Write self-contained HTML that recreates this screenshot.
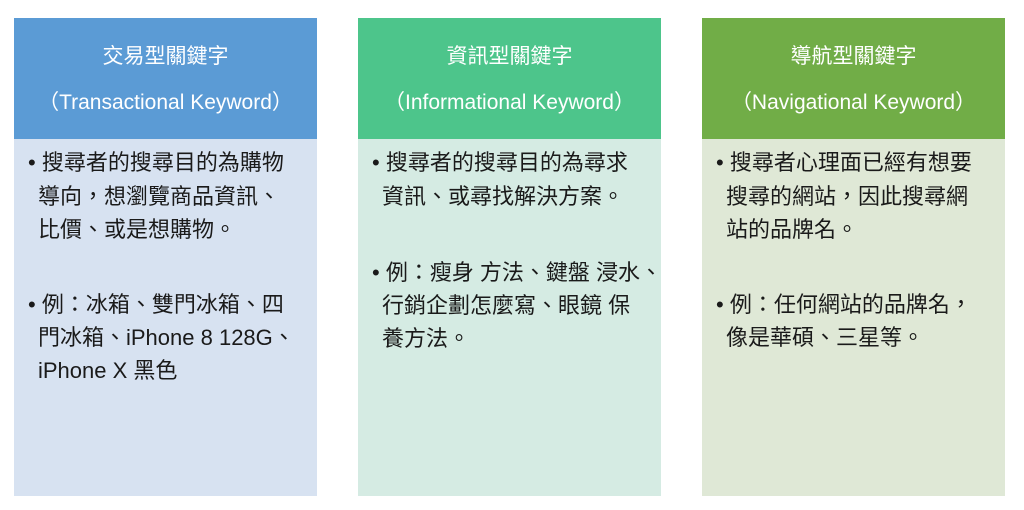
<!DOCTYPE html>
<html><head><meta charset="utf-8"><style>
body{margin:0;width:1024px;height:510px;background:#fff;position:relative;overflow:hidden;font-family:"Liberation Sans","Noto Sans CJK TC",sans-serif}
.h{position:absolute;top:18px;height:121px;width:303px;color:#fff;text-align:center;font-size:21px}
.h div{position:absolute;left:0;right:0;white-space:nowrap}
.b{position:absolute;top:139px;height:357px;width:303px}
.l{position:absolute;white-space:nowrap;font-size:22px;color:#1a1a1a;line-height:26px}
</style></head><body>
<div class="h" style="left:14px;background:#5b9bd5"><div style="top:22px">交易型關鍵字</div><div style="top:68px">（Transactional Keyword）</div></div>
<div class="b" style="left:14px;background:#d7e2f1"></div>
<div class="h" style="left:358px;background:#4dc58b"><div style="top:22px">資訊型關鍵字</div><div style="top:68px">（Informational Keyword）</div></div>
<div class="b" style="left:358px;background:#d5ebe3"></div>
<div class="h" style="left:702px;background:#71ad47"><div style="top:22px">導航型關鍵字</div><div style="top:68px">（Navigational Keyword）</div></div>
<div class="b" style="left:702px;background:#dfe8d6"></div>

<div class="l" style="left:28px;top:150px">• 搜尋者的搜尋目的為購物</div>
<div class="l" style="left:38px;top:184px">導向，想瀏覽商品資訊、</div>
<div class="l" style="left:38px;top:217px">比價、或是想購物。</div>
<div class="l" style="left:28px;top:292px">• 例：冰箱、雙門冰箱、四</div>
<div class="l" style="left:38px;top:325px">門冰箱、iPhone 8 128G、</div>
<div class="l" style="left:38px;top:358px">iPhone X 黑色</div>

<div class="l" style="left:372px;top:150px">• 搜尋者的搜尋目的為尋求</div>
<div class="l" style="left:382px;top:184px">資訊、或尋找解決方案。</div>
<div class="l" style="left:372px;top:260px">• 例：瘦身 方法、鍵盤 浸水、</div>
<div class="l" style="left:382px;top:293px">行銷企劃怎麼寫、眼鏡 保</div>
<div class="l" style="left:382px;top:326px">養方法。</div>

<div class="l" style="left:716px;top:150px">• 搜尋者心理面已經有想要</div>
<div class="l" style="left:726px;top:184px">搜尋的網站，因此搜尋網</div>
<div class="l" style="left:726px;top:217px">站的品牌名。</div>
<div class="l" style="left:716px;top:292px">• 例：任何網站的品牌名，</div>
<div class="l" style="left:726px;top:325px">像是華碩、三星等。</div>
</body></html>
